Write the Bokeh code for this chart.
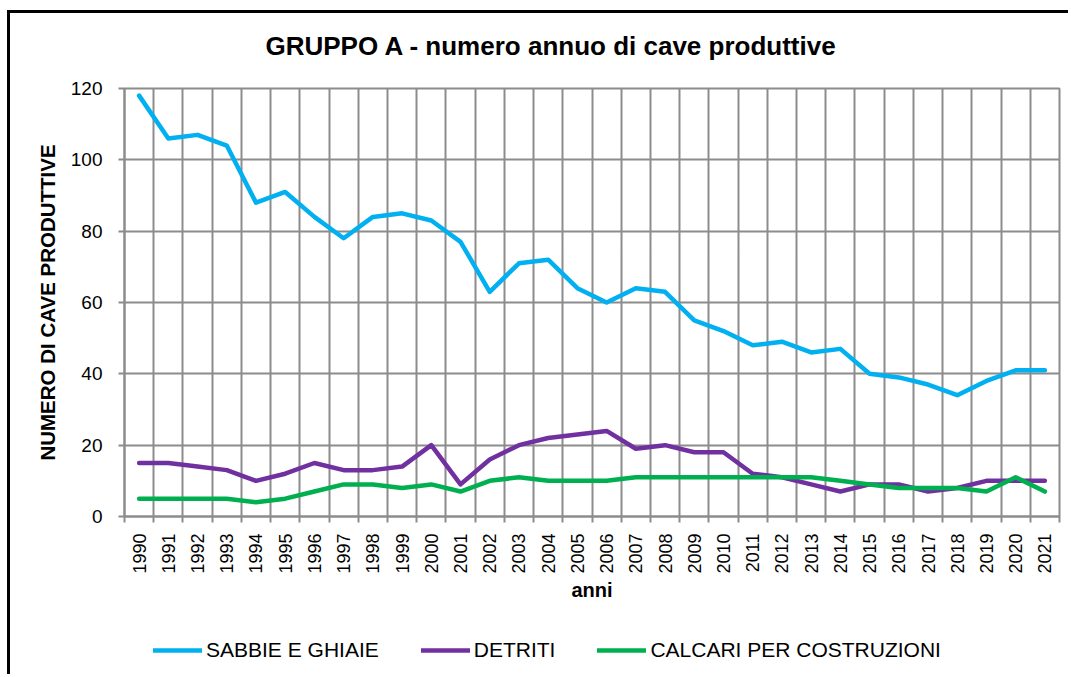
from math import pi
from bokeh.plotting import figure
from bokeh.layouts import column
from bokeh.models import Range1d, FixedTicker, Legend, LegendItem
from bokeh.embed import file_html
from bokeh.resources import INLINE

# ---- data ----
years = list(range(1990, 2022))
sabbie_e_ghiaie = [118, 106, 107, 104, 88, 91, 84, 78, 84, 85, 83, 77, 63, 71, 72, 64,
                   60, 64, 63, 55, 52, 48, 49, 46, 47, 40, 39, 37, 34, 38, 41, 41]
detriti = [15, 15, 14, 13, 10, 12, 15, 13, 13, 14, 20, 9, 16, 20, 22, 23,
           24, 19, 20, 18, 18, 12, 11, 9, 7, 9, 9, 7, 8, 10, 10, 10]
calcari = [5, 5, 5, 5, 4, 5, 7, 9, 9, 8, 9, 7, 10, 11, 10, 10,
           10, 11, 11, 11, 11, 11, 11, 11, 10, 9, 8, 8, 8, 7, 11, 7]
y_ticks = [0, 20, 40, 60, 80, 100, 120]
series_names = ["SABBIE E GHIAIE", "DETRITI", "CALCARI PER COSTRUZIONI"]
title_text = "GRUPPO A - numero annuo di cave produttive"
x_label = "anni"
y_label = "NUMERO DI CAVE PRODUTTIVE"
series = [sabbie_e_ghiaie, detriti, calcari]

# ---- style ----
FONT = "Liberation Sans"
GRID = "#8c8c8c"
colors = ["#00B0F0", "#7030A0", "#00B050"]
LINE_W = 4.5

p = figure(frame_width=935, frame_height=428, output_backend="svg", toolbar_location=None,
           x_range=Range1d(years[0] - 0.5, years[-1] + 0.5),
           y_range=Range1d(y_ticks[0], y_ticks[-1]),
           min_border_left=124, min_border_right=14,
           min_border_top=88, min_border_bottom=100)
# outer chart box (left and top edges), drawn behind the transparent canvas border
p.styles = {"box-shadow": ("inset 0 10px 0 0 white, inset 7px 0 0 0 white, "
                           "inset 0 13px 0 0 black, inset 10px 0 0 0 black"),
            "background-color": "white", "clip-path": "inset(0 5px 0 0)"}
p.background_fill_color = "white"
p.border_fill_alpha = 0
p.outline_line_color = GRID
p.outline_line_width = 2

# x axis: labels at category centres, ticks/grid at boundaries
bounds = [y - 0.5 for y in years] + [years[-1] + 0.5]
xt = FixedTicker(ticks=years, minor_ticks=bounds)
xa = p.xaxis[0]
xa.ticker = xt
xa.major_tick_out = 0
xa.major_tick_in = 0
xa.minor_tick_out = 6
xa.minor_tick_in = 0
xa.minor_tick_line_color = GRID
xa.minor_tick_line_width = 2
xa.axis_line_color = GRID
xa.axis_line_width = 2
xa.major_label_orientation = pi / 2
xa.major_label_standoff = 11
xa.major_label_text_font = FONT
xa.major_label_text_font_size = "18px"
xa.major_label_text_color = "black"
xa.axis_label = x_label
xa.axis_label_text_font = FONT
xa.axis_label_text_font_style = "bold"
xa.axis_label_text_font_size = "20px"
xa.axis_label_text_color = "black"
xa.axis_label_standoff = 2

p.xgrid.ticker = xt
p.xgrid.grid_line_color = None
p.xgrid.minor_grid_line_color = GRID
p.xgrid.minor_grid_line_width = 2

ya = p.yaxis[0]
ya.ticker = FixedTicker(ticks=y_ticks)
ya.major_tick_out = 6
ya.major_tick_in = 0
ya.minor_tick_out = 0
ya.minor_tick_in = 0
ya.major_tick_line_color = GRID
ya.major_tick_line_width = 2
ya.axis_line_color = GRID
ya.axis_line_width = 2
ya.major_label_standoff = 16
ya.major_label_text_font = FONT
ya.major_label_text_font_size = "19px"
ya.major_label_text_color = "black"
ya.axis_label = y_label
ya.axis_label_text_font = FONT
ya.axis_label_text_font_style = "bold"
ya.axis_label_text_font_size = "20.5px"
ya.axis_label_text_color = "black"
ya.axis_label_standoff = 9

p.ygrid.ticker = FixedTicker(ticks=y_ticks)
p.ygrid.grid_line_color = GRID
p.ygrid.grid_line_width = 2

# title
p.title.text = title_text
p.title.align = "left"
p.title.offset = 141
p.title.text_font = FONT
p.title.text_font_style = "bold"
p.title.text_font_size = "26px"
p.title.text_color = "black"
p.title.standoff = 55

for vals, c in zip(series, colors):
    p.line(years, vals, line_color=c, line_width=LINE_W,
           line_join="round", line_cap="round")

# ---- legend strip below the chart ----
lf = figure(width=1073, height=58, output_backend="svg", toolbar_location=None,
            x_axis_location=None, y_axis_location=None, min_border=0,
            x_range=Range1d(0, 1), y_range=Range1d(1000, 1001))
lf.styles = {"box-shadow": "inset 7px 0 0 0 white, inset 10px 0 0 0 black",
             "background-color": "white", "clip-path": "inset(0 5px 0 0)"}
lf.title.text = ""
lf.outline_line_color = None
lf.background_fill_alpha = 0
lf.border_fill_alpha = 0
lf.grid.visible = False

legend_renderers = []
for vals, c in zip(series, colors):
    r = lf.line(years, vals, line_color=c, line_width=LINE_W, line_cap="round")
    legend_renderers.append(r)

legend = Legend(items=[LegendItem(label=n, renderers=[r])
                       for n, r in zip(series_names, legend_renderers)],
                orientation="horizontal", location=(29, 12),
                padding=0, margin=0, border_line_color=None,
                background_fill_alpha=0, glyph_width=49, glyph_height=20,
                label_height=20, label_standoff=4, spacing=42,
                label_text_font=FONT, label_text_font_size="21px",
                label_text_color="black")
lf.add_layout(legend)

layout = column(p, lf, spacing=0)
open("out.html", "w").write(file_html(layout, INLINE))
